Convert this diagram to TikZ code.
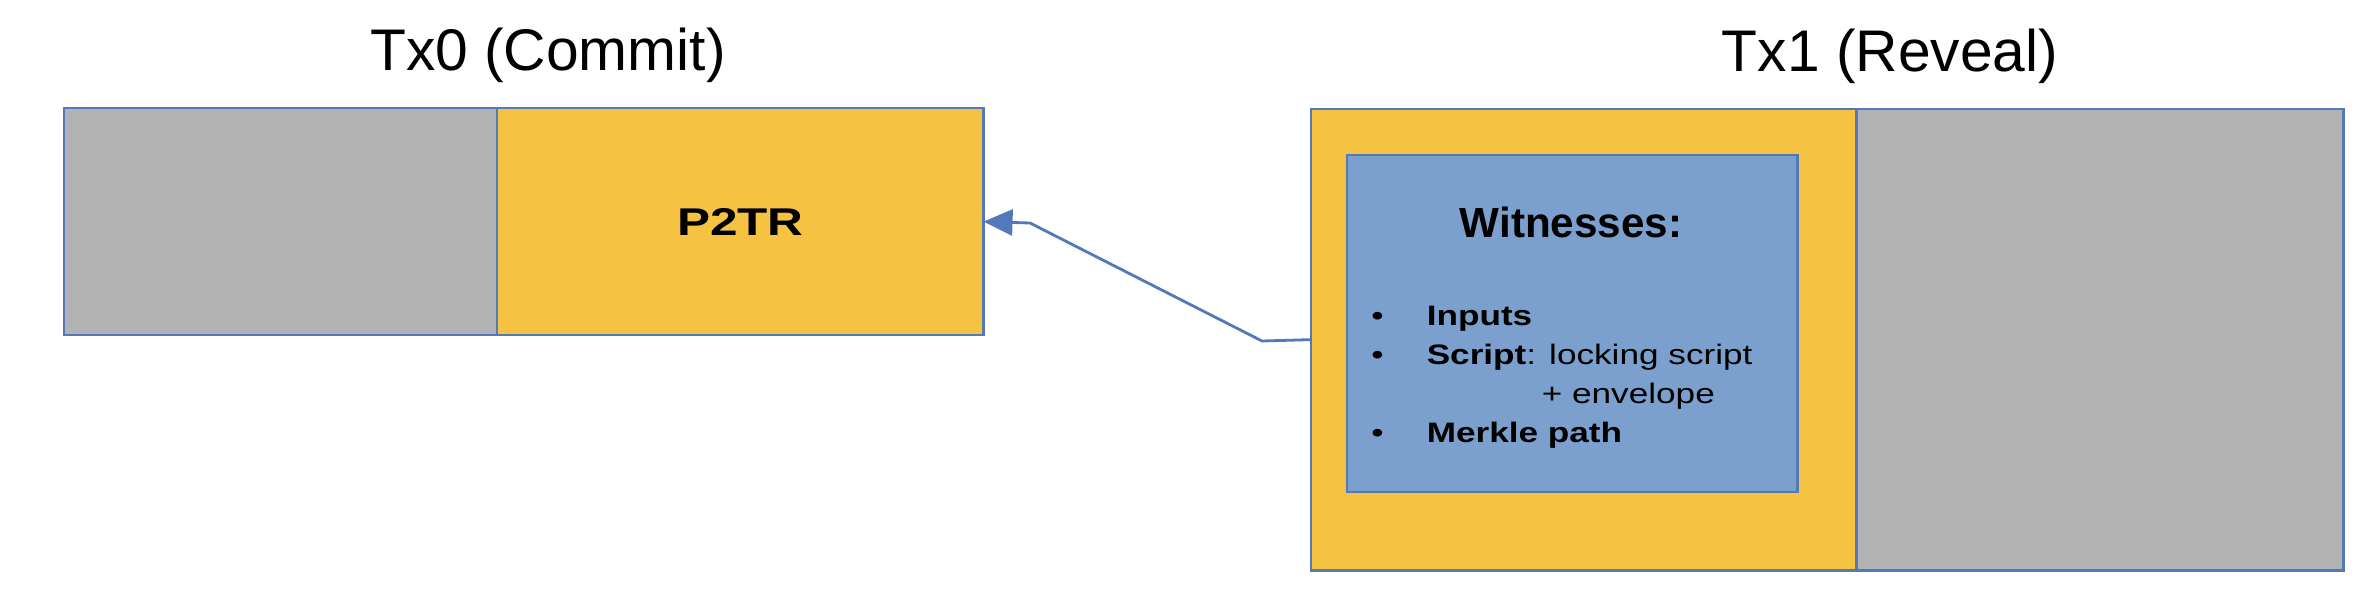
\documentclass[tikz,border=0pt]{standalone}
\usepackage{fontspec}
\setmainfont{Liberation Sans}
\usetikzlibrary{positioning,matrix,arrows.meta}
\definecolor{txGray}{HTML}{B2B2B2}
\definecolor{txGold}{HTML}{F5C242}
\definecolor{txBlue}{HTML}{7BA0CD}
\definecolor{txEdge}{HTML}{5479BA}
\tikzset{
  txcell/.style={draw=txEdge,line width=0.7pt,inner sep=0pt,outer sep=0pt},
  txtitle/.style={font=\fontsize{16.7}{20}\selectfont,anchor=base},
  spendlink/.style={draw=txEdge,line width=0.8pt,-{Triangle[length=2.9mm,width=2.6mm]}}
}
\begin{document}
\begin{tikzpicture}[x=0.01cm,y=-0.01cm]
    \newcommand{\wideText}[2]{\scalebox{#1}[1]{#2}}
    \newcommand{\listDot}{\wideText{1.25}{\textbullet}}
  \useasboundingbox (0,0) rectangle (2376,594);

  % commit transaction
  \node[txtitle] (tx0) at (548,70) {Tx0 (Commit)};
  \node[txcell,fill=txGray,minimum width=4.33cm,minimum height=2.27cm,anchor=north west] (in0) at (64,108) {};
  \node[txcell,fill=txGold,minimum width=4.86cm,minimum height=2.27cm,right=0pt of in0,
        font=\bfseries\fontsize{11}{13}\selectfont] (p2tr) {\wideText{1.28}{P2TR}};

  % reveal transaction
  \node[txtitle] (tx1) at (1890,71) {Tx1 (Reveal)};
  \node[txcell,fill=txGold,minimum width=5.45cm,minimum height=4.61cm,anchor=north west] (rev) at (1311,109) {};
  \node[txcell,fill=txGray,minimum width=4.87cm,minimum height=4.61cm,right=0pt of rev] (out1) {};
  \node[txcell,fill=txBlue,minimum width=4.5cm,minimum height=3.37cm,anchor=north west] (wit) at (1347,155) {};
  \node[font=\bfseries\fontsize{12}{14}\selectfont,anchor=base] (withead) at (1571,237) {Witnesses:};
  \matrix (witlist) [
  matrix of nodes,inner sep=0pt,anchor=north west,column sep=0.43cm,
  nodes={anchor=base west,inner sep=0pt,text height=2.9mm,text depth=1.0mm,
         font=\fontsize{8}{10}\selectfont}
] at (1370,296)
  {
    \listDot&\wideText{1.25}{\textbf{Inputs}}\\
    \listDot&\wideText{1.25}{\textbf{Script}: locking script}\\
    &\hspace{1.15cm}\wideText{1.25}{+ envelope}\\
    \listDot&\wideText{1.25}{\textbf{Merkle path}}\\
  };

  % spend of the P2TR output
  \coordinate (bendA) at (1262,341);
  \coordinate (bendB) at (1030,223);
  \draw[spendlink] (rev.west) -- (bendA) -- (bendB) -- (p2tr.east);

\end{tikzpicture}
\end{document}
